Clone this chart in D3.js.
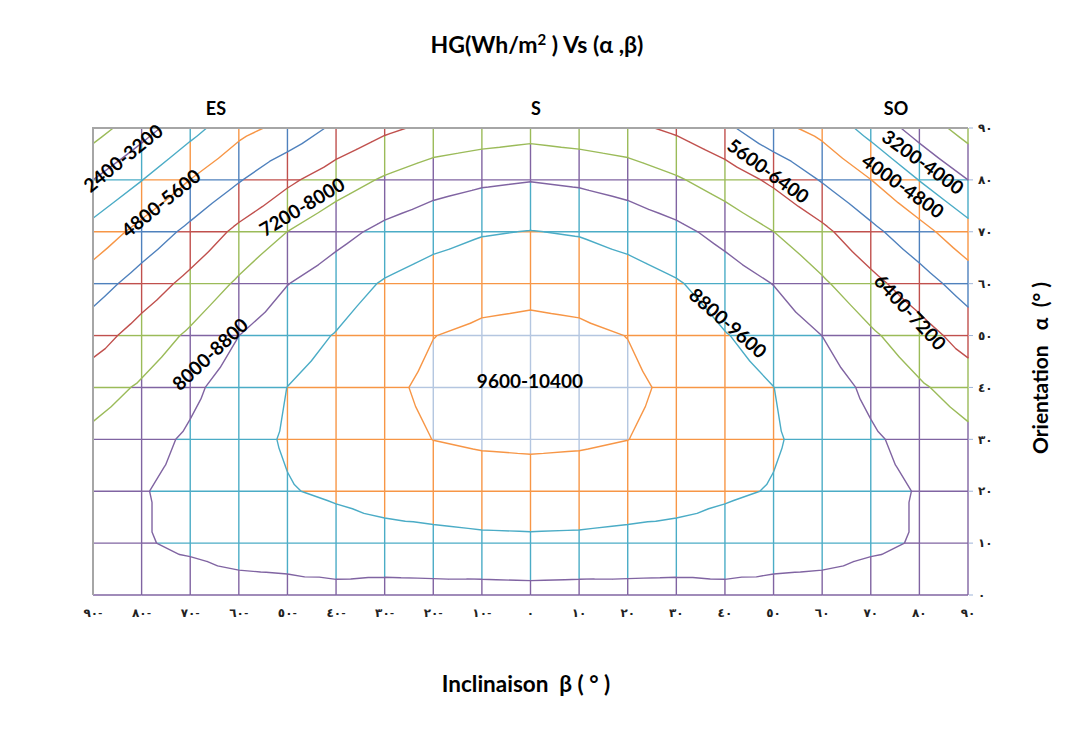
<!DOCTYPE html>
<html>
<head>
<meta charset="utf-8">
<script src="https://cdn.jsdelivr.net/npm/d3@7"></script>
<style>
  body { margin: 0; background: #ffffff; }
  text { font-family: Lato, "Open Sans", "DejaVu Sans", sans-serif; }
</style>
</head>
<body>
<svg id="chart" width="1079" height="742"></svg>
<script>
// Grid axes: inclination β (columns) and orientation α (rows), in degrees
const inclinaison = [-90, -80, -70, -60, -50, -40, -30, -20, -10, 0, 10, 20, 30, 40, 50, 60, 70, 80, 90];
const orientation = [0, 10, 20, 30, 40, 50, 60, 70, 80, 90];

// HG (Wh/m²) for each orientation row, across inclination -90 … 90
const hgAlpha0  = [7600, 7750, 7744, 7760, 7780, 7790, 7724, 7740, 7725, 7749, 7725, 7740, 7724, 7790, 7780, 7760, 7744, 7750, 7600];
const hgAlpha10 = [7780, 7960, 8090, 8260, 8322, 8485, 8529, 8566, 8634, 8656, 8634, 8566, 8529, 8485, 8322, 8260, 8090, 7960, 7780];
const hgAlpha20 = [7760, 7960, 8204, 8502, 8760, 8902, 9088, 9219, 9289, 9312, 9289, 9219, 9088, 8902, 8760, 8502, 8204, 7960, 7760];
const hgAlpha30 = [7380, 7740, 8110, 8555, 8868, 9099, 9402, 9607, 9688, 9716, 9688, 9607, 9402, 9099, 8868, 8555, 8110, 7740, 7380];
const hgAlpha40 = [6853, 7300, 7827, 8386, 8805, 9078, 9471, 9729, 9833, 9869, 9833, 9729, 9471, 9078, 8805, 8386, 7827, 7300, 6853];
const hgAlpha50 = [6058, 6733, 7325, 7995, 8504, 8836, 9294, 9590, 9724, 9772, 9724, 9590, 9294, 8836, 8504, 7995, 7325, 6733, 6058];
const hgAlpha60 = [5225, 5956, 6634, 7320, 7981, 8430, 8872, 9176, 9360, 9422, 9360, 9176, 8872, 8430, 7981, 7320, 6634, 5956, 5225];
const hgAlpha70 = [4281, 5061, 5805, 6586, 7205, 7740, 8205, 8508, 8741, 8822, 8741, 8508, 8205, 7740, 7205, 6586, 5805, 5061, 4281];
const hgAlpha80 = [3200, 3980, 4810, 5541, 6251, 6820, 7292, 7666, 7868, 7970, 7868, 7666, 7292, 6820, 6251, 5541, 4810, 3980, 3200];
const hgAlpha90 = [2057, 2880, 3720, 4548, 5045, 5762, 6250, 6584, 6740, 6868, 6740, 6584, 6250, 5762, 5045, 4548, 3720, 2880, 2057];

// Band boundaries of the contour chart and the colour of each band
const bandEdges = [0, 800, 1600, 2400, 3200, 4000, 4800, 5600, 6400, 7200, 8000, 8800, 9600, 10400];
const bandColors = ["#4F81BD", "#C0504D", "#9BBB59", "#8064A2", "#4BACC6", "#F79646",
                    "#4F81BD", "#C0504D", "#9BBB59", "#8064A2", "#4BACC6", "#F79646", "#B4C6E0"];

// Tick labels (Arabic-Indic digits)
const xTickLabels = ["٩٠-", "٨٠-", "٧٠-", "٦٠-", "٥٠-", "٤٠-", "٣٠-", "٢٠-", "١٠-", "٠",
                     "١٠", "٢٠", "٣٠", "٤٠", "٥٠", "٦٠", "٧٠", "٨٠", "٩٠"];
const yTickLabels = ["٠", "١٠", "٢٠", "٣٠", "٤٠", "٥٠", "٦٠", "٧٠", "٨٠", "٩٠"];

// Band labels written along the contours
const bandLabels = ["2400-3200", "4800-5600", "7200-8000", "8000-8800", "9600-10400",
                    "8800-9600", "5600-6400", "4000-4800", "3200-4000", "6400-7200"];
// Placement of those labels in (β, α) and their rotation
const bandLabelPlacement = [
  [-83.8, 84.2, -39], [-76.0, 75.5, -39], [-47.0, 74.8, -31], [-65.9, 46.4, -43], [-0.1, 41.2, 0],
  [40.6, 52.4, 41], [48.9, 81.7, 36], [76.6, 78.8, 35.5], [80.7, 83.4, 36], [78.1, 54.5, 47]
];

const sectorNames = ["ES", "S", "SO"];
const sectorPositions = [-64.7, 1.1, 75.2];

const hg = [hgAlpha0, hgAlpha10, hgAlpha20, hgAlpha30, hgAlpha40,
            hgAlpha50, hgAlpha60, hgAlpha70, hgAlpha80, hgAlpha90];

const svg = d3.select("#chart");
const x = d3.scaleLinear().domain([-90, 90]).range([93, 968]);
const y = d3.scaleLinear().domain([0, 90]).range([595, 128]);

const bandOf = v => Math.max(0, Math.min(bandColors.length - 1, d3.bisectRight(bandEdges, v) - 1));
const levels = bandEdges.slice(1, bandEdges.length - 1);

const lineW = 1.4;
const gridG = svg.append("g").attr("fill", "none").attr("stroke-width", lineW);

// Draw one grid edge, split where it crosses band boundaries
function drawEdge(b1, a1, v1, b2, a2, v2) {
  const ts = [0];
  const lo = Math.min(v1, v2), hi = Math.max(v1, v2);
  levels.forEach(L => { if (L > lo && L < hi) ts.push((L - v1) / (v2 - v1)); });
  ts.push(1);
  ts.sort((p, q) => p - q);
  for (let k = 0; k < ts.length - 1; k++) {
    const t0 = ts[k], t1 = ts[k + 1];
    if (t1 - t0 < 1e-6) continue;
    const vm = v1 + (v2 - v1) * (t0 + t1) / 2;
    const p = d3.path();
    p.moveTo(x(b1 + (b2 - b1) * t0), y(a1 + (a2 - a1) * t0));
    p.lineTo(x(b1 + (b2 - b1) * t1), y(a1 + (a2 - a1) * t1));
    gridG.append("path").attr("d", p.toString()).attr("stroke", bandColors[bandOf(vm)]);
  }
}

// Horizontal grid lines
orientation.forEach((a, j) => {
  for (let i = 0; i < inclinaison.length - 1; i++) {
    drawEdge(inclinaison[i], a, hg[j][i], inclinaison[i + 1], a, hg[j][i + 1]);
  }
});
// Vertical grid lines
inclinaison.forEach((b, i) => {
  for (let j = 0; j < orientation.length - 1; j++) {
    drawEdge(b, orientation[j], hg[j][i], b, orientation[j + 1], hg[j + 1][i]);
  }
});

// Contours: each cell is split into four triangles around its centre value
const contourPaths = levels.map(() => d3.path());
for (let j = 0; j < orientation.length - 1; j++) {
  for (let i = 0; i < inclinaison.length - 1; i++) {
    const p00 = [inclinaison[i], orientation[j], hg[j][i]];
    const p10 = [inclinaison[i + 1], orientation[j], hg[j][i + 1]];
    const p11 = [inclinaison[i + 1], orientation[j + 1], hg[j + 1][i + 1]];
    const p01 = [inclinaison[i], orientation[j + 1], hg[j + 1][i]];
    const c = [(p00[0] + p10[0]) / 2, (p00[1] + p01[1]) / 2,
               (p00[2] + p10[2] + p11[2] + p01[2]) / 4];
    const tris = [[p00, p10, c], [p10, p11, c], [p11, p01, c], [p01, p00, c]];
    levels.forEach((L, k) => {
      tris.forEach(tri => {
        const pts = [];
        for (let e = 0; e < 3; e++) {
          const p = tri[e], q = tri[(e + 1) % 3];
          if ((p[2] >= L) !== (q[2] >= L)) {
            const t = (L - p[2]) / (q[2] - p[2]);
            pts.push([p[0] + (q[0] - p[0]) * t, p[1] + (q[1] - p[1]) * t]);
          }
        }
        if (pts.length === 2) {
          contourPaths[k].moveTo(x(pts[0][0]), y(pts[0][1]));
          contourPaths[k].lineTo(x(pts[1][0]), y(pts[1][1]));
        }
      });
    });
  }
}
const contourG = svg.append("g").attr("fill", "none").attr("stroke-width", lineW)
  .attr("stroke-linecap", "round");
levels.forEach((L, k) => {
  contourG.append("path").attr("d", contourPaths[k].toString())
    .attr("stroke", bandColors[bandOf(L) - 1]);
});

// Plot frame (back edges)
svg.append("path")
  .attr("d", `M${x(-90)},${y(0)}V${y(90)}H${x(90)}`)
  .attr("fill", "none").attr("stroke", "#A6A6A6").attr("stroke-width", 2);

// Right-hand ticks and labels
const yAxisG = svg.append("g");
orientation.forEach((a, j) => {
  yAxisG.append("line").attr("x1", x(90) + 1).attr("x2", x(90) + 5)
    .attr("y1", y(a)).attr("y2", y(a)).attr("stroke", "#9DB3D8").attr("stroke-width", 1);
  yAxisG.append("text").attr("x", x(90) + 10).attr("y", y(a)).attr("dy", "0.35em")
    .attr("font-family", "DejaVu Sans").attr("font-weight", 700)
    .attr("font-size", 12).attr("letter-spacing", 1.5).attr("fill", "#222")
    .text(yTickLabels[j]);
});

// Bottom tick labels
const xAxisG = svg.append("g");
inclinaison.forEach((b, i) => {
  xAxisG.append("text").attr("x", x(b)).attr("y", 617)
    .attr("text-anchor", "middle").attr("font-family", "DejaVu Sans").attr("font-weight", 700)
    .attr("font-size", 12).attr("letter-spacing", 2).attr("fill", "#222").text(xTickLabels[i]);
});

// Sector names above the plot
sectorNames.forEach((s, i) => {
  svg.append("text").attr("x", x(sectorPositions[i])).attr("y", 115)
    .attr("text-anchor", "middle").attr("font-weight", 700).attr("font-size", 18)
    .text(s);
});

// Band labels
bandLabels.forEach((s, i) => {
  const [b, a, ang] = bandLabelPlacement[i];
  svg.append("text")
    .attr("transform", `translate(${x(b)},${y(a)}) rotate(${ang})`)
    .attr("text-anchor", "middle").attr("dy", "0.36em")
    .attr("font-weight", 700).attr("font-size", 19).attr("fill", "#000")
    .text(s);
});

// Title
const title = svg.append("text").attr("x", 537).attr("y", 53).attr("text-anchor", "middle")
  .attr("font-weight", 700).attr("font-size", 23);
title.append("tspan").text("HG(Wh/m");
title.append("tspan").attr("font-size", 15).attr("dy", -8).text("2");
title.append("tspan").attr("dy", 8).text(" ) Vs (α ,β)");

// Axis titles
svg.append("text").attr("x", 526).attr("y", 692).attr("text-anchor", "middle")
  .attr("font-weight", 700).attr("font-size", 22.5).attr("xml:space", "preserve")
  .text("Inclinaison  β ( ° )");
svg.append("text").attr("transform", "translate(1048,368) rotate(-90)")
  .attr("text-anchor", "middle").attr("font-weight", 700).attr("font-size", 21)
  .attr("xml:space", "preserve")
  .text("Orientation   α  (° )");
</script>
</body>
</html>
